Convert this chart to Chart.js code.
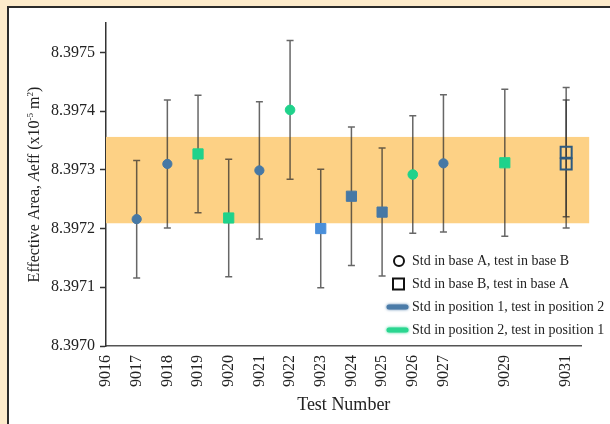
<!DOCTYPE html>
<html>
<head>
<meta charset="utf-8">
<script src="https://cdn.jsdelivr.net/npm/chart.js@4"></script>
<style>
  html, body { margin: 0; padding: 0; }
  body { width: 610px; height: 424px; background: #fdebcb; position: relative; overflow: hidden; }
  #panel { position: absolute; left: 7px; top: 6px; width: 700px; height: 500px;
           background: #fff; border-left: 2px solid #2b2b2b; border-top: 2px solid #2b2b2b; }
  #chart { position: absolute; left: 0; top: 0; }
</style>
</head>
<body>
<div id="panel"></div>
<canvas id="chart" width="610" height="424"></canvas>
<script>
// 軸の目盛り
const xTicks = [9016, 9017, 9018, 9019, 9020, 9021, 9022, 9023, 9024, 9025, 9026, 9027, 9029, 9031];
const yTicks = [8.3970, 8.3971, 8.3972, 8.3973, 8.3974, 8.3975];

// 青い丸 (Std in base A, test in base B / position 1)
const blueCircleX = [9017, 9018, 9021, 9027];
const blueCircleY = [8.397216, 8.397310, 8.397299, 8.397311];
const blueCircleErr = [0.000100, 0.000109, 0.000117, 0.000117];

// 緑の丸
const greenCircleX = [9022, 9026];
const greenCircleY = [8.397402, 8.397292];
const greenCircleErr = [0.000118, 0.000100];

// 緑の四角
const greenSquareX = [9019, 9020, 9029];
const greenSquareY = [8.397327, 8.397218, 8.397312];
const greenSquareErr = [0.000100, 0.000100, 0.000125];

// 青い四角
const blueSquareX = [9023, 9024, 9025];
const blueSquareY = [8.397200, 8.397255, 8.397228];
const blueSquareErr = [0.000101, 0.000118, 0.000109];

// 白抜きの四角 (9031)
const hollowX = [9031, 9031];
const hollowY = [8.397330, 8.397310];
const hollowErr = [0.000110, 0.000109];

// オレンジの帯
const bandX = [9016, 9031.75];
const bandY = [8.397209, 8.397356];

const BLUE = '#4678a5';
const GREEN = '#1fd28b';

function toPoints(xs, ys) {
    return xs.map((x, i) => ({ x: x, y: ys[i] }));
}

// 帯を描く
const bandPlugin = {
    id: 'band',
    beforeDatasetsDraw(chart) {
        const { ctx, scales: { x, y } } = chart;
        const left = x.getPixelForValue(bandX[0]);
        const right = x.getPixelForValue(bandX[1]);
        const top = y.getPixelForValue(bandY[1]);
        const bottom = y.getPixelForValue(bandY[0]);
        ctx.save();
        ctx.fillStyle = '#fdd185';
        ctx.fillRect(left, top, right - left, bottom - top);
        ctx.restore();
    }
};

// エラーバー
const errorBarPlugin = {
    id: 'errorBars',
    beforeDatasetsDraw(chart) {
        const { ctx, scales: { x, y } } = chart;
        ctx.save();
        ctx.strokeStyle = 'rgba(45, 45, 45, 0.72)';
        ctx.lineWidth = 1.5;
        chart.data.datasets.forEach(ds => {
            ds.data.forEach((p, i) => {
                const e = ds.errors[i];
                const px = x.getPixelForValue(p.x);
                const top = y.getPixelForValue(p.y + e);
                const bottom = y.getPixelForValue(p.y - e);
                ctx.beginPath();
                ctx.moveTo(px, top);
                ctx.lineTo(px, bottom);
                ctx.moveTo(px - 3.5, top);
                ctx.lineTo(px + 3.5, top);
                ctx.moveTo(px - 3.5, bottom);
                ctx.lineTo(px + 3.5, bottom);
                ctx.stroke();
            });
        });
        ctx.restore();
    }
};

// 縦軸タイトル (A はイタリック)
const yTitlePlugin = {
    id: 'yTitle',
    afterDraw(chart) {
        const { ctx, chartArea } = chart;
        const parts = [
            { t: 'Effective Area, ', f: '16px "Liberation Serif"', dy: 0 },
            { t: 'A', f: 'italic 16px "Liberation Serif"', dy: 0 },
            { t: 'eff (x10', f: '16px "Liberation Serif"', dy: 0 },
            { t: '-5', f: '9px "Liberation Serif"', dy: -6 },
            { t: ' m', f: '16px "Liberation Serif"', dy: 0 },
            { t: '2', f: '9px "Liberation Serif"', dy: -6 },
            { t: ')', f: '16px "Liberation Serif"', dy: 0 }
        ];
        ctx.save();
        let total = 0;
        parts.forEach(p => { ctx.font = p.f; p.w = ctx.measureText(p.t).width; total += p.w; });
        const cy = (chartArea.top + chartArea.bottom) / 2;
        ctx.translate(39, cy);
        ctx.rotate(-Math.PI / 2);
        ctx.fillStyle = '#222';
        ctx.textBaseline = 'alphabetic';
        let cx = -total / 2;
        parts.forEach(p => {
            ctx.font = p.f;
            ctx.fillText(p.t, cx, p.dy);
            cx += p.w;
        });
        ctx.restore();
    }
};

// 凡例
const legendPlugin = {
    id: 'customLegend',
    afterDraw(chart) {
        const ctx = chart.ctx;
        const rows = [
            { y: 261, label: 'Std in base A, test in base B', kind: 'circle' },
            { y: 284, label: 'Std in base B, test in base A', kind: 'square' },
            { y: 307, label: 'Std in position 1, test in position 2', kind: 'line', color: '#4a7ba8' },
            { y: 330, label: 'Std in position 2, test in position 1', kind: 'line', color: '#2ad690' }
        ];
        ctx.save();
        rows.forEach(r => {
            if (r.kind === 'circle') {
                ctx.strokeStyle = '#111';
                ctx.lineWidth = 2;
                ctx.beginPath();
                ctx.arc(399, r.y, 5, 0, Math.PI * 2);
                ctx.stroke();
            } else if (r.kind === 'square') {
                ctx.strokeStyle = '#111';
                ctx.lineWidth = 2;
                ctx.strokeRect(393, r.y - 5.5, 11, 11);
            } else {
                ctx.save();
                ctx.strokeStyle = r.color;
                ctx.lineWidth = 5;
                ctx.lineCap = 'round';
                ctx.shadowColor = r.color;
                ctx.shadowBlur = 3;
                ctx.beginPath();
                ctx.moveTo(389, r.y);
                ctx.lineTo(406, r.y);
                ctx.stroke();
                ctx.restore();
            }
            ctx.fillStyle = '#222';
            ctx.font = '14px "Liberation Serif"';
            ctx.textBaseline = 'middle';
            ctx.fillText(r.label, 412, r.y);
        });
        ctx.restore();
    }
};

const serif = '"Liberation Serif", "DejaVu Serif", serif';

new Chart(document.getElementById('chart'), {
    type: 'scatter',
    data: {
        datasets: [
            {
                label: 'blue circle',
                data: toPoints(blueCircleX, blueCircleY),
                errors: blueCircleErr,
                pointStyle: 'circle',
                pointRadius: 4.6,
                pointBackgroundColor: BLUE,
                pointBorderColor: BLUE,
                pointBorderWidth: 1
            },
            {
                label: 'green circle',
                data: toPoints(greenCircleX, greenCircleY),
                errors: greenCircleErr,
                pointStyle: 'circle',
                pointRadius: 4.8,
                pointBackgroundColor: GREEN,
                pointBorderColor: GREEN,
                pointBorderWidth: 1
            },
            {
                label: 'green square',
                data: toPoints(greenSquareX, greenSquareY),
                errors: greenSquareErr,
                pointStyle: 'rect',
                pointRadius: 7.2,
                pointBackgroundColor: GREEN,
                pointBorderColor: GREEN,
                pointBorderWidth: 1
            },
            {
                label: 'blue square',
                data: toPoints(blueSquareX, blueSquareY),
                errors: blueSquareErr,
                pointStyle: 'rect',
                pointRadius: 7.2,
                pointBackgroundColor: ['#4a8fda', BLUE, BLUE],
                pointBorderColor: ['#4a8fda', BLUE, BLUE],
                pointBorderWidth: 1
            },
            {
                label: 'hollow square',
                data: toPoints(hollowX, hollowY),
                errors: hollowErr,
                pointStyle: 'rect',
                pointRadius: 7.8,
                pointBackgroundColor: 'rgba(0,0,0,0)',
                pointBorderColor: '#2d5a80',
                pointBorderWidth: 2
            }
        ]
    },
    options: {
        responsive: false,
        animation: false,
        events: [],
        layout: { padding: { top: 23, right: 28.5, left: 0, bottom: 0 } },
        plugins: {
            legend: { display: false },
            tooltip: { enabled: false }
        },
        scales: {
            x: {
                type: 'linear',
                min: 9016,
                max: 9031.5,
                afterBuildTicks: scale => { scale.ticks = xTicks.map(v => ({ value: v })); },
                afterFit: scale => { scale.height = 78; },
                grid: { display: true, drawOnChartArea: false, drawTicks: false },
                border: { display: true, color: '#555', width: 1.5 },
                ticks: {
                    autoSkip: false,
                    minRotation: 90,
                    maxRotation: 90,
                    padding: 9,
                    color: '#222',
                    font: { family: serif, size: 16 },
                    callback: v => String(v)
                },
                title: {
                    display: true,
                    text: 'Test Number',
                    color: '#222',
                    font: { family: serif, size: 18 },
                    padding: { top: 0, bottom: 8 }
                }
            },
            y: {
                type: 'linear',
                min: 8.3970,
                max: 8.39755,
                afterBuildTicks: scale => { scale.ticks = yTicks.map(v => ({ value: v })); },
                afterFit: scale => { scale.width = 106; },
                grid: { display: true, drawOnChartArea: false, drawTicks: true, tickLength: 6, color: '#333', tickWidth: 1.5 },
                border: { display: true, color: '#333', width: 1.5 },
                ticks: {
                    padding: 5,
                    color: '#222',
                    font: { family: serif, size: 16 },
                    callback: v => v.toFixed(4)
                }
            }
        }
    },
    plugins: [bandPlugin, errorBarPlugin, yTitlePlugin, legendPlugin]
});
</script>
</body>
</html>
